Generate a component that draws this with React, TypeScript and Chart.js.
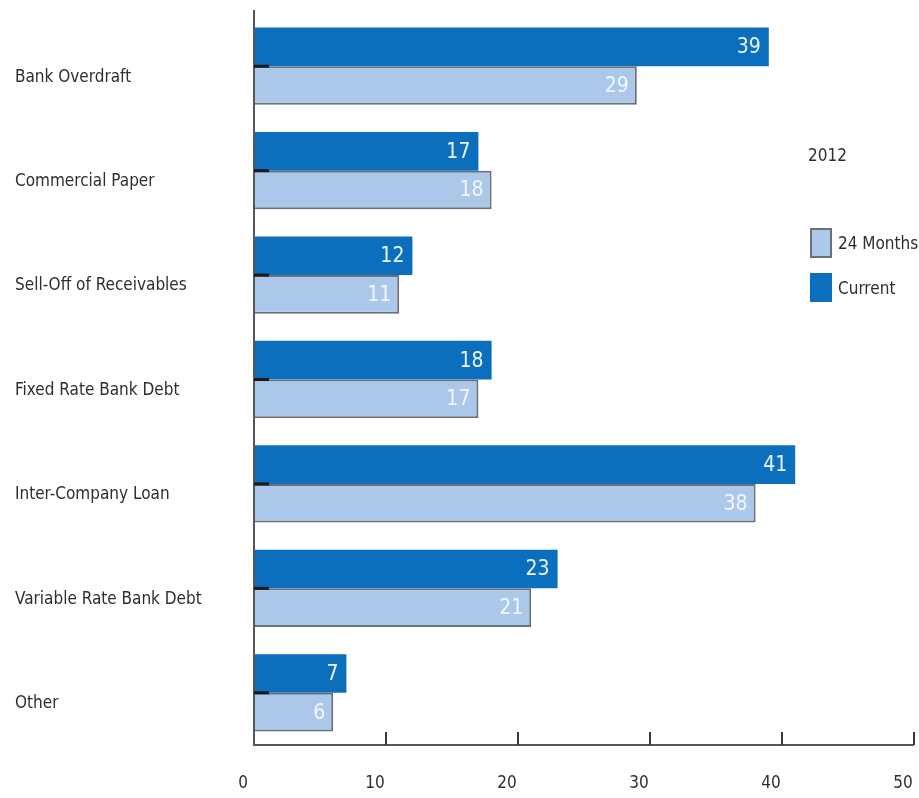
import React, { useEffect, useRef } from "react";
import { Chart, registerables } from "chart.js";

Chart.register(...registerables);

const categories = [
  "Bank Overdraft",
  "Commercial Paper",
  "Sell-Off of Receivables",
  "Fixed Rate Bank Debt",
  "Inter-Company Loan",
  "Variable Rate Bank Debt",
  "Other",
];
const currentValues = [39, 17, 12, 18, 41, 23, 7];
const months24Values = [29, 18, 11, 17, 38, 21, 6];
const xTicks = [0, 10, 20, 30, 40, 50];
const legendTitle = "2012";
const seriesNames = ["Current", "24 Months"];

const FONT = '"Liberation Sans Narrow", "DejaVu Sans Condensed", "Arial Narrow", sans-serif';
const DARK = "#0b6fbe";
const LIGHT = "#abc8ea";
const LIGHT_BORDER = "#6c6f76";
const TEXT = "#2e2e2e";

const decorPlugin = {
  id: "decor",
  afterDatasetsDraw(chart: any) {
    const ctx = chart.ctx;
    const { left, right, top, bottom } = chart.chartArea;
    const xs = chart.scales.x;
    const ys = chart.scales.y;
    ctx.save();
    ctx.strokeStyle = "#55575c";
    ctx.lineWidth = 2;
    ctx.beginPath();
    ctx.moveTo(left, top - 4);
    ctx.lineTo(left, bottom);
    ctx.lineTo(right, bottom);
    ctx.stroke();
    ctx.strokeStyle = "#3a3a3e";
    xTicks.forEach((t) => {
      if (t === 0) return;
      const x = xs.getPixelForValue(t);
      ctx.beginPath();
      ctx.moveTo(x, bottom);
      ctx.lineTo(x, bottom - 13);
      ctx.stroke();
    });
    ctx.strokeStyle = "#1a1a1a";
    ctx.lineWidth = 3;
    categories.forEach((_, i) => {
      const y = ys.getPixelForValue(i);
      ctx.beginPath();
      ctx.moveTo(left, y);
      ctx.lineTo(left + 15, y);
      ctx.stroke();
    });
    ctx.font = `21px ${FONT}`;
    ctx.textAlign = "right";
    ctx.textBaseline = "middle";
    chart.data.datasets.forEach((ds: any, di: number) => {
      const meta = chart.getDatasetMeta(di);
      meta.data.forEach((bar: any, i: number) => {
        ctx.fillStyle = di === 0 ? "rgba(255,255,255,0.92)" : "rgba(255,255,255,0.85)";
        ctx.fillText(String(ds.data[i]), bar.x - 8, bar.y + 1);
      });
    });
    ctx.textAlign = "left";
    ctx.fillStyle = TEXT;
    ctx.font = `17px ${FONT}`;
    ctx.fillText(legendTitle, 808, 157);
    ctx.fillStyle = LIGHT;
    ctx.fillRect(811, 229, 20, 28);
    ctx.strokeStyle = LIGHT_BORDER;
    ctx.lineWidth = 2;
    ctx.strokeRect(811, 229, 20, 28);
    ctx.fillStyle = DARK;
    ctx.fillRect(810, 273, 22, 29);
    ctx.fillStyle = TEXT;
    ctx.fillText(seriesNames[1], 838, 245);
    ctx.fillText(seriesNames[0], 838, 290);
    ctx.restore();
  },
};

export default function App() {
  const ref = useRef<HTMLCanvasElement>(null);
  useEffect(() => {
    if (!ref.current) return;
    const chart = new Chart(ref.current, {
      type: "bar",
      data: {
        labels: categories,
        datasets: [
          { label: seriesNames[0], data: currentValues, backgroundColor: DARK, borderWidth: 0 },
          {
            label: seriesNames[1],
            data: months24Values,
            backgroundColor: LIGHT,
            borderColor: LIGHT_BORDER,
            borderWidth: 2,
          },
        ],
      },
      options: {
        indexAxis: "y",
        animation: false,
        responsive: false,
        maintainAspectRatio: false,
        datasets: { bar: { categoryPercentage: 0.74, barPercentage: 1.0 } },
        layout: { padding: { top: 14, right: 5, left: 15, bottom: 4 } },
        plugins: { legend: { display: false }, tooltip: { enabled: false } },
        scales: {
          x: {
            min: 0,
            max: 50,
            afterBuildTicks: (s: any) => {
              s.ticks = xTicks.map((v) => ({ value: v }));
            },
            afterFit: (s: any) => {
              s.height = 49;
              s.paddingLeft = 0;
              s.paddingRight = 0;
            },
            grid: { display: false, drawTicks: false },
            border: { display: false },
            ticks: {
              color: TEXT,
              font: { family: FONT, size: 17 },
              padding: 28,
              maxRotation: 0,
              labelOffset: -11,
            },
          },
          y: {
            grid: { display: false, drawTicks: false },
            border: { display: false },
            afterFit: (s: any) => {
              s.width = 239;
            },
            ticks: {
              crossAlign: "far",
              color: TEXT,
              font: { family: FONT, size: 17 },
              labelOffset: 11,
            },
          },
        },
      },
      plugins: [decorPlugin],
    } as any);
    return () => chart.destroy();
  }, []);
  return (
    <div style={{ position: "absolute", left: 0, top: 0, width: 919, height: 798, background: "#fff" }}>
      <canvas ref={ref} width={919} height={798} />
    </div>
  );
}
